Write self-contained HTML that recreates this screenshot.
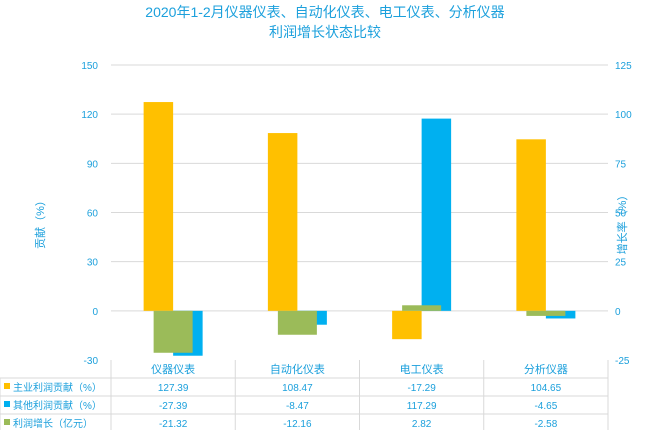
<!DOCTYPE html>
<html><head><meta charset="utf-8"><style>
body{margin:0;background:#fff;}
svg text{font-family:"Liberation Sans","Noto Sans CJK SC",sans-serif;}
</style></head><body>
<svg width="650" height="430" viewBox="0 0 650 430" xmlns="http://www.w3.org/2000/svg">
<g id="root"></g>
</svg>
<script>
const categories=["仪器仪表","自动化仪表","电工仪表","分析仪器"];
const mainContrib=[127.39,108.47,-17.29,104.65];
const otherContrib=[-27.39,-8.47,117.29,-4.65];
const profitGrowth=[-21.32,-12.16,2.82,-2.58];
const leftTicks=[150,120,90,60,30,0,-30];
const rightTicks=[125,100,75,50,25,0,-25];
const seriesNames=["主业利润贡献（%）","其他利润贡献（%）","利润增长（亿元）"];

const NS="http://www.w3.org/2000/svg";
const root=document.getElementById('root');
const C="#1ca0dc";
const X0=111,X1=608,TOP=65,BOT=360;
function yL(v){return TOP+(150-v)/180*(BOT-TOP);}
function yR(v){return TOP+(125-v)/150*(BOT-TOP);}
const cw=(X1-X0)/categories.length;
function mk(tag,attrs,txt){const e=document.createElementNS(NS,tag);for(const k in attrs)e.setAttribute(k,attrs[k]);if(txt!==undefined)e.textContent=txt;root.appendChild(e);return e;}

let t=mk('text',{x:325,y:17,'text-anchor':'middle','font-size':14,fill:C},"2020年1-2月仪器仪表、自动化仪表、电工仪表、分析仪器");

t=mk('text',{x:325,y:37,'text-anchor':'middle','font-size':14,fill:C},"利润增长状态比较");


leftTicks.forEach(v=>{
  const y=yL(v);
  if(v>-30){const l=mk('line',{x1:X0,x2:X1,y1:y,y2:y,stroke:'#d9d9d9','stroke-width':1});
  }
  const tx=mk('text',{x:98,y:y+4,'text-anchor':'end','font-size':10,fill:C},String(v));
  
});
rightTicks.forEach(v=>{
  const tx=mk('text',{x:615,y:yR(v)+4,'text-anchor':'start','font-size':10,fill:C},String(v));
  
});
t=mk('text',{x:0,y:0,'text-anchor':'middle','font-size':11,fill:C,transform:'translate(44,222) rotate(-90)'},"贡献（%）");

t=mk('text',{x:0,y:0,'text-anchor':'middle','font-size':11,fill:C,transform:'translate(626,222) rotate(-90)'},"增长率（%）");


const bw=29.5,gw=39;
categories.forEach((c,i)=>{
  const cx=X0+cw*(i+0.5);
  let v=mainContrib[i];
  let r=mk('rect',{x:cx-bw,y:Math.min(yL(v),yL(0)),width:bw,height:Math.abs(yL(v)-yL(0)),fill:'#ffc000'});
  
  v=otherContrib[i];
  r=mk('rect',{x:cx,y:Math.min(yL(v),yL(0)),width:bw,height:Math.abs(yL(v)-yL(0)),fill:'#00b0f0'});
  
  v=profitGrowth[i];
  r=mk('rect',{x:cx-gw/2,y:Math.min(yR(v),yR(0)),width:gw,height:Math.abs(yR(v)-yR(0)),fill:'#9bbb59'});
  
});

// table
const rowY=[360,378,396,414,432];
const colX=[X0,X0+cw,X0+2*cw,X0+3*cw,X1];
colX.forEach(x=>{const l=mk('line',{x1:x,x2:x,y1:360,y2:430,stroke:'#d9d9d9'});});
rowY.slice(1).forEach(y=>{const l=mk('line',{x1:0,x2:X1,y1:y,y2:y,stroke:'#d9d9d9'});});
let l0=mk('line',{x1:0,x2:0,y1:378,y2:430,stroke:'#d9d9d9'});
categories.forEach((c,i)=>{
  const tx=mk('text',{x:X0+cw*(i+0.5),y:373,'text-anchor':'middle','font-size':11,fill:C},c);
  
});
const cols=['#ffc000','#00b0f0','#9bbb59'];
const data=[mainContrib,otherContrib,profitGrowth];
seriesNames.forEach((n,r)=>{
  const y=rowY[r+1]+13;
  const m=mk('rect',{x:4,y:y-8,width:6,height:6,fill:cols[r]});
  
  const tx=mk('text',{x:13,y:y,'font-size':10,fill:C},n);
  
  data[r].forEach((v,i)=>{
    const vt=mk('text',{x:X0+cw*(i+0.5),y:y,'text-anchor':'middle','font-size':10,fill:C},v.toFixed(2));
    
  });
});
</script>
</body></html>
